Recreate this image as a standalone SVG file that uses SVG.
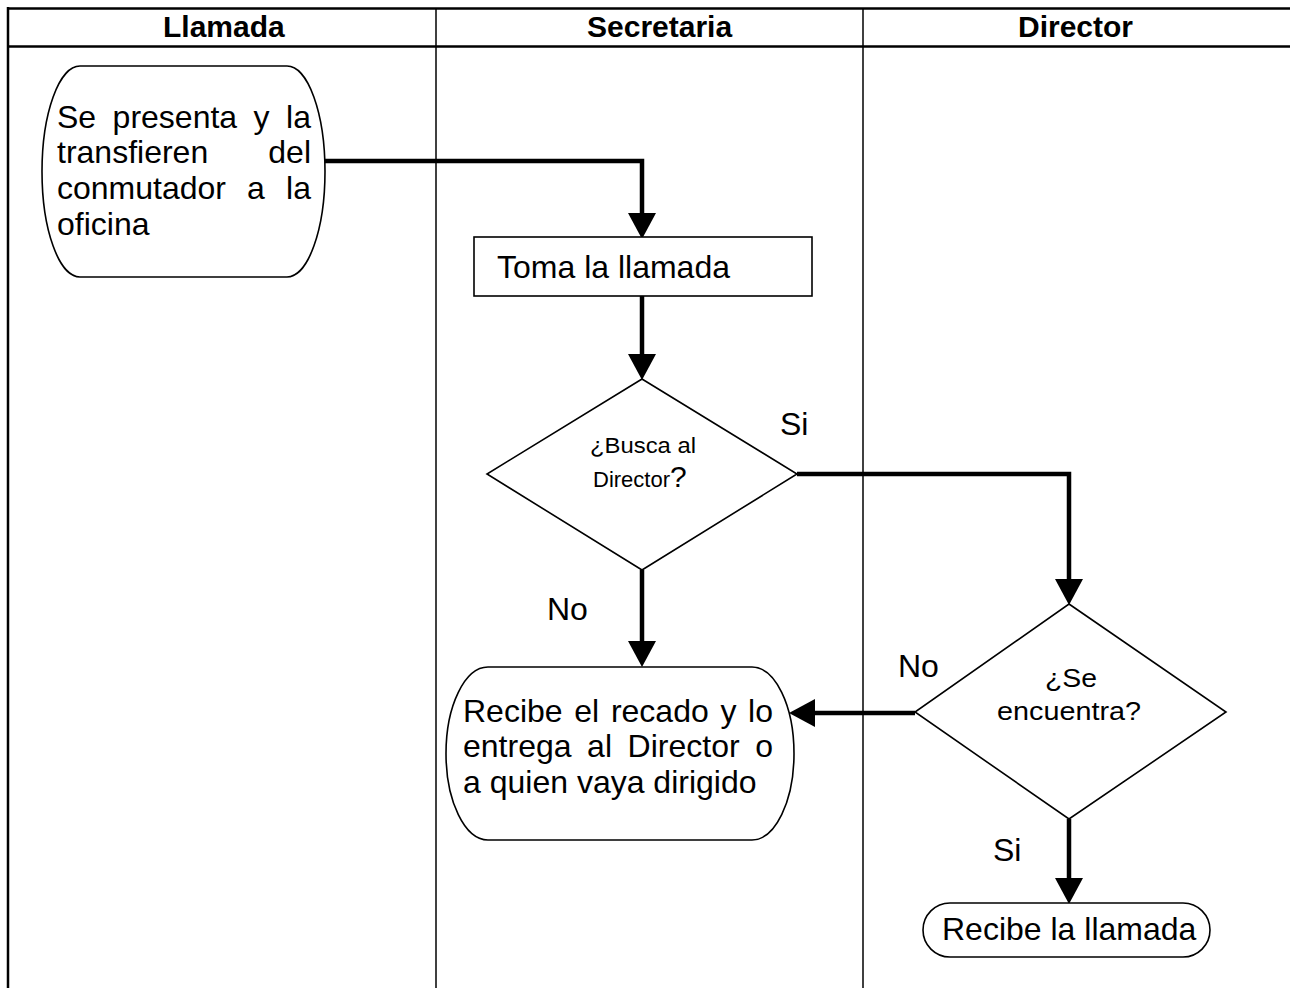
<svg xmlns="http://www.w3.org/2000/svg" width="1290" height="988" viewBox="0 0 1290 988">
<defs>
<style>
.frame{stroke:#000;stroke-width:2.5;fill:none}
.col{stroke:#000;stroke-width:1.5;fill:none}
.shape{fill:#fff;stroke:#000;stroke-width:1.6}
.conn{fill:none;stroke:#000;stroke-width:4.5;marker-end:url(#arr)}
.hd{font-family:"Liberation Sans",Arial,sans-serif;font-weight:bold;font-size:30px;fill:#000}
.tx{font-family:"Liberation Sans",Arial,sans-serif;font-size:32px;fill:#000}
.sm{font-family:"Liberation Sans",Arial,sans-serif;font-size:22px;fill:#000}
.md{font-family:"Liberation Sans",Arial,sans-serif;font-size:26px;fill:#000}
</style>
<marker id="arr" markerUnits="userSpaceOnUse" markerWidth="26" markerHeight="28" refX="0" refY="14" orient="auto">
<path d="M0,0 L26,14 L0,28 z" fill="#000"/>
</marker>
</defs>
<rect width="1290" height="988" fill="#fff"/>
<g id="table">
<line class="frame" x1="7" y1="8.5" x2="1295" y2="8.5"/>
<line class="frame" x1="7" y1="46.5" x2="1295" y2="46.5"/>
<line class="frame" x1="8" y1="7" x2="8" y2="990"/>
<line class="col" x1="436" y1="8" x2="436" y2="990"/>
<line class="col" x1="863" y1="8" x2="863" y2="990"/>
<text class="hd" x="163" y="37">Llamada</text>
<text class="hd" x="587" y="37">Secretaria</text>
<text class="hd" x="1018" y="37">Director</text>
</g>
<g id="connectors">
<path class="conn" d="M325,161 H642 V213"/>
<path class="conn" d="M642,296 V354"/>
<path class="conn" d="M797,474 H1069 V579"/>
<path class="conn" d="M642,570 V641"/>
<path class="conn" d="M915,713 H815"/>
<path class="conn" d="M1069,819 V878"/>
</g>
<g id="n1">
<rect class="shape" x="42" y="66" width="283" height="211" rx="38" ry="105.5"/>
<text class="tx" y="128"><tspan x="57">Se</tspan><tspan x="112.6">presenta</tspan><tspan x="253.6">y</tspan><tspan x="286.1">la</tspan></text>
<text class="tx" y="163"><tspan x="57">transfieren</tspan><tspan x="268.3">del</tspan></text>
<text class="tx" y="199"><tspan x="57">conmutador</tspan><tspan x="247.1">a</tspan><tspan x="286.1">la</tspan></text>
<text class="tx" x="57" y="235">oficina</text>
</g>
<g id="n2">
<rect class="shape" x="474" y="237" width="338" height="59"/>
<text class="tx" x="497" y="278">Toma la llamada</text>
</g>
<g id="n3">
<polygon class="shape" points="642,379 797,474 642,570 487,474"/>
<text class="sm" x="590" y="453" textLength="106" lengthAdjust="spacingAndGlyphs">¿Busca al</text>
<text class="sm" x="593" y="487">Director<tspan font-size="30">?</tspan></text>
</g>
<g id="n4">
<polygon class="shape" points="1069,604 1226,712 1069,819 915,712"/>
<text class="md" x="1045" y="687" textLength="52" lengthAdjust="spacingAndGlyphs">¿Se</text>
<text class="md" x="997" y="720" textLength="144" lengthAdjust="spacingAndGlyphs">encuentra?</text>
</g>
<g id="n5">
<rect class="shape" x="446" y="667" width="348" height="173" rx="42" ry="86.5"/>
<text class="tx" y="722"><tspan x="463">Recibe</tspan><tspan x="574.3">el</tspan><tspan x="610.9">recado</tspan><tspan x="720.4">y</tspan><tspan x="748.1">lo</tspan></text>
<text class="tx" y="757"><tspan x="463">entrega</tspan><tspan x="587.1">al</tspan><tspan x="627.6">Director</tspan><tspan x="755.2">o</tspan></text>
<text class="tx" x="463" y="793">a quien vaya dirigido</text>
</g>
<g id="n6">
<rect class="shape" x="923" y="903" width="287" height="54" rx="27" ry="27"/>
<text class="tx" x="942" y="940">Recibe la llamada</text>
</g>
<g id="labels">
<text class="tx" x="780" y="435">Si</text>
<text class="tx" x="547" y="620">No</text>
<text class="tx" x="898" y="677">No</text>
<text class="tx" x="993" y="861">Si</text>
</g>
</svg>
